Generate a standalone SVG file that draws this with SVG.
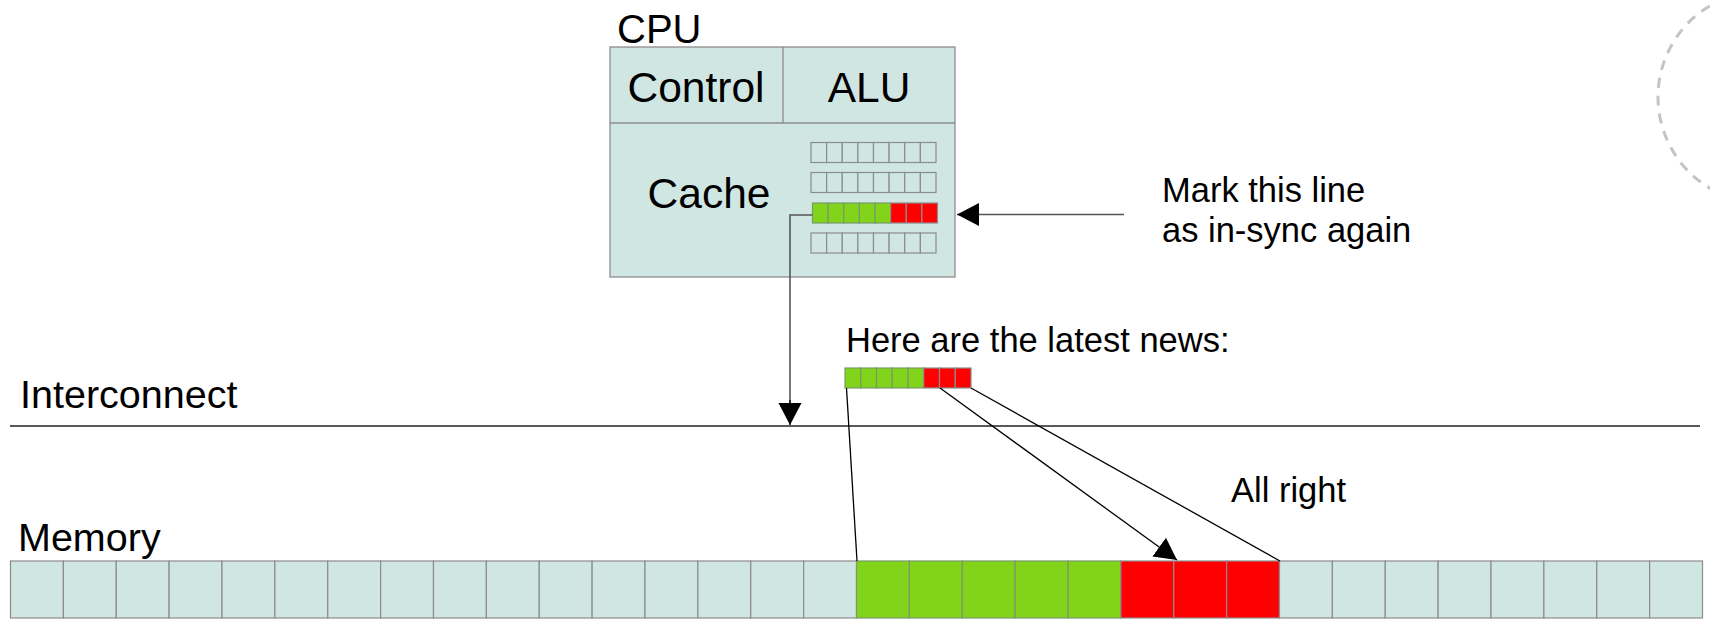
<svg xmlns="http://www.w3.org/2000/svg" width="1710" height="620" viewBox="0 0 1710 620">
  <style>
    text { font-family: "Liberation Sans", Arial, sans-serif; fill: #000; }
    .big { font-size: 42.5px; }
    .lbl { font-size: 39.5px; }
    .mid { font-size: 34.5px; }
    .box { fill: #d0e6e3; stroke: #8c8c8c; stroke-width: 1.3; }
    .cell { fill: #d0e6e3; stroke: #8c8c8c; stroke-width: 1.2; }
    .g { fill: #81d41a; stroke: #7a9a6a; stroke-width: 1.2; }
    .r { fill: #ff0000; stroke: #8c8c8c; stroke-width: 1.2; }
    .wire { fill: none; stroke: #000; stroke-width: 1.3; }
    .wire-gray { fill: none; stroke: #555; stroke-width: 1.6; }
  </style>
  <defs>
    <marker id="arrow" markerUnits="userSpaceOnUse" markerWidth="24" markerHeight="24" refX="22" refY="11.5" orient="auto" viewBox="0 0 24 24">
      <path d="M0,0 L22,11.5 L0,23 z" fill="#000"/>
    </marker>
    <!-- one 8-slot line of cache cells -->
    <g id="line8">
      <rect class="cell" x="0" y="0" width="15.625" height="20"/>
      <rect class="cell" x="15.625" y="0" width="15.625" height="20"/>
      <rect class="cell" x="31.25" y="0" width="15.625" height="20"/>
      <rect class="cell" x="46.875" y="0" width="15.625" height="20"/>
      <rect class="cell" x="62.5" y="0" width="15.625" height="20"/>
      <rect class="cell" x="78.125" y="0" width="15.625" height="20"/>
      <rect class="cell" x="93.75" y="0" width="15.625" height="20"/>
      <rect class="cell" x="109.375" y="0" width="15.625" height="20"/>
    </g>
    <g id="line8-dirty">
      <rect class="g" x="0" y="0" width="15.625" height="20"/>
      <rect class="g" x="15.625" y="0" width="15.625" height="20"/>
      <rect class="g" x="31.25" y="0" width="15.625" height="20"/>
      <rect class="g" x="46.875" y="0" width="15.625" height="20"/>
      <rect class="g" x="62.5" y="0" width="15.625" height="20"/>
      <rect class="r" x="78.125" y="0" width="15.625" height="20"/>
      <rect class="r" x="93.75" y="0" width="15.625" height="20"/>
      <rect class="r" x="109.375" y="0" width="15.625" height="20"/>
    </g>
  </defs>

  <!-- dashed outline partially off the right edge -->
  <circle id="ring" cx="1764" cy="97" r="106" fill="none" stroke="#c4c4c4" stroke-width="3" stroke-dasharray="10 8"/>

  <!-- CPU -->
  <g id="cpu">
    <text x="617" y="43" style="font-size:40px">CPU</text>
    <rect class="box" x="610" y="47" width="345" height="230"/>
    <line x1="610" y1="123" x2="955" y2="123" stroke="#8c8c8c" stroke-width="1.3"/>
    <line x1="783" y1="47" x2="783" y2="123" stroke="#8c8c8c" stroke-width="1.3"/>
  </g>
  <g id="control"><text class="big" x="696" y="102" text-anchor="middle">Control</text></g>
  <g id="alu"><text class="big" x="869" y="102" text-anchor="middle">ALU</text></g>
  <g id="cache">
    <text class="big" x="709" y="208" text-anchor="middle">Cache</text>
    <use href="#line8" x="811" y="142.5"/>
    <use href="#line8" x="811" y="172.5"/>
    <use href="#line8-dirty" x="812.5" y="203"/>
    <use href="#line8" x="811" y="233"/>
  </g>

  <!-- notes -->
  <g id="note-sync">
    <text class="mid" x="1162" y="202">Mark this line</text>
    <text class="mid" x="1162" y="242">as in-sync again</text>
  </g>
  <g id="note-news">
    <text class="mid" x="846" y="352">Here are the latest news:</text>
    <use href="#line8-dirty" transform="translate(845 368) scale(1.008 1)"/>
  </g>
  <g id="note-ack"><text class="mid" x="1231" y="502">All right</text></g>

  <!-- interconnect -->
  <g id="interconnect">
    <text class="lbl" x="20" y="408">Interconnect</text>
    <line x1="10" y1="426" x2="1700" y2="426" stroke="#222" stroke-width="1.3"/>
  </g>

  <!-- memory -->
  <g id="memory">
    <text class="lbl" x="18" y="551">Memory</text>
    <g id="memory-cells">
      <rect class="cell" x="10.5" y="561" width="52.875" height="57"/>
      <rect class="cell" x="63.375" y="561" width="52.875" height="57"/>
      <rect class="cell" x="116.25" y="561" width="52.875" height="57"/>
      <rect class="cell" x="169.125" y="561" width="52.875" height="57"/>
      <rect class="cell" x="222" y="561" width="52.875" height="57"/>
      <rect class="cell" x="274.875" y="561" width="52.875" height="57"/>
      <rect class="cell" x="327.75" y="561" width="52.875" height="57"/>
      <rect class="cell" x="380.625" y="561" width="52.875" height="57"/>
      <rect class="cell" x="433.5" y="561" width="52.875" height="57"/>
      <rect class="cell" x="486.375" y="561" width="52.875" height="57"/>
      <rect class="cell" x="539.25" y="561" width="52.875" height="57"/>
      <rect class="cell" x="592.125" y="561" width="52.875" height="57"/>
      <rect class="cell" x="645" y="561" width="52.875" height="57"/>
      <rect class="cell" x="697.875" y="561" width="52.875" height="57"/>
      <rect class="cell" x="750.75" y="561" width="52.875" height="57"/>
      <rect class="cell" x="803.625" y="561" width="52.875" height="57"/>
      <rect class="g" x="856.5" y="561" width="52.875" height="57"/>
      <rect class="g" x="909.375" y="561" width="52.875" height="57"/>
      <rect class="g" x="962.25" y="561" width="52.875" height="57"/>
      <rect class="g" x="1015.125" y="561" width="52.875" height="57"/>
      <rect class="g" x="1068" y="561" width="52.875" height="57"/>
      <rect class="r" x="1120.875" y="561" width="52.875" height="57"/>
      <rect class="r" x="1173.75" y="561" width="52.875" height="57"/>
      <rect class="r" x="1226.625" y="561" width="52.875" height="57"/>
      <rect class="cell" x="1279.5" y="561" width="52.875" height="57"/>
      <rect class="cell" x="1332.375" y="561" width="52.875" height="57"/>
      <rect class="cell" x="1385.25" y="561" width="52.875" height="57"/>
      <rect class="cell" x="1438.125" y="561" width="52.875" height="57"/>
      <rect class="cell" x="1491" y="561" width="52.875" height="57"/>
      <rect class="cell" x="1543.875" y="561" width="52.875" height="57"/>
      <rect class="cell" x="1596.75" y="561" width="52.875" height="57"/>
      <rect class="cell" x="1649.625" y="561" width="52.875" height="57"/>
    </g>
  </g>

  <!-- connectors -->
  <g id="connectors">
    <polyline class="wire-gray" points="812.5,215 790,215 790,405"/>
    <line class="wire" x1="790" y1="400" x2="790" y2="425" marker-end="url(#arrow)"/>
    <line class="wire-gray" x1="1124" y1="214.5" x2="957" y2="214.5" marker-end="url(#arrow)"/>
    <line class="wire" x1="846.5" y1="388" x2="857" y2="561"/>
    <line class="wire" x1="940" y1="388" x2="1177" y2="560" marker-end="url(#arrow)"/>
    <line class="wire" x1="971" y1="388" x2="1280" y2="561"/>
  </g>
</svg>
